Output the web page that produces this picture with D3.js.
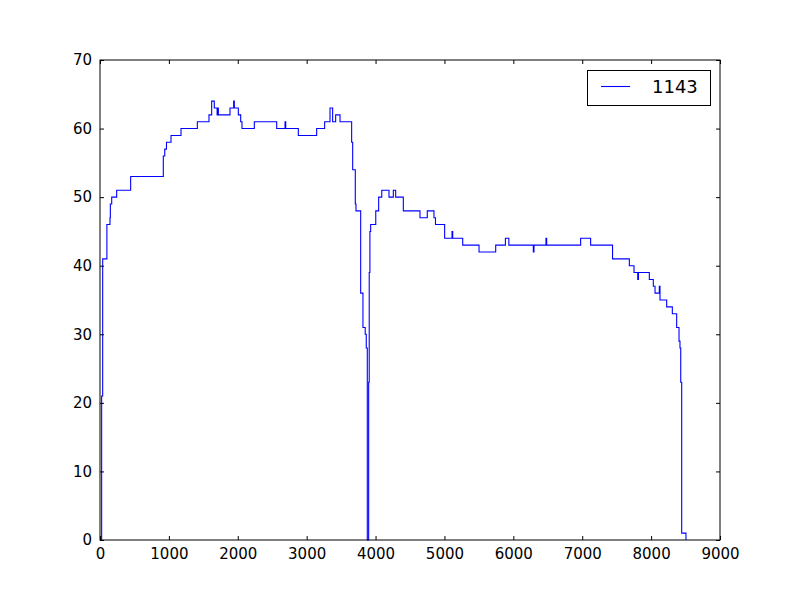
<!DOCTYPE html>
<html>
<head>
<meta charset="utf-8">
<script src="https://cdn.jsdelivr.net/npm/d3@7"></script>
<style>
  body { margin: 0; background: #fff; }
  text { font-family: "DejaVu Sans", sans-serif; fill: #000; }
</style>
</head>
<body>
<div id="chart"></div>
<script>
// step series "1143" : x where the level changes, and the level from there on
var stepX = [0, 24, 39, 100, 145, 150, 170, 242, 445, 919, 940, 965, 1031, 1176, 1413, 1582, 1621, 1659, 1700, 1712, 1718,
  1887, 1940, 1950, 2008, 2042, 2061, 2240, 2565, 2686, 2696, 2879, 3145, 3261, 3339, 3377, 3421, 3484, 3653, 3668,
  3706, 3716, 3784, 3817, 3850, 3865, 3880, 3900, 3908, 3918, 3929, 4003, 4045, 4090, 4195, 4258, 4292, 4403, 4645,
  4751, 4848, 4870, 5003, 5110, 5120, 5265, 5502, 5744, 5885, 5935, 6290, 6300, 6474, 6484, 6977, 7122, 7440, 7684,
  7752, 7806, 7816, 7974, 8032, 8057, 8119, 8129, 8226, 8308, 8371, 8405, 8419, 8430, 8444, 8506];
var stepY = [0, 21, 41, 46, 47, 49, 50, 51, 53, 56, 57, 58, 59, 60, 61, 62, 64, 63, 62, 63, 62,
  63, 64, 63, 62, 61, 60, 61, 60, 61, 60, 59, 60, 61, 63, 61, 62, 61, 58, 54,
  49, 48, 36, 31, 30, 28, 0, 23, 39, 45, 46, 48, 50, 51, 50, 51, 50, 48, 47,
  48, 47, 46, 44, 45, 44, 43, 42, 43, 44, 43, 42, 43, 44, 43, 44, 43, 41, 40,
  39, 38, 39, 38, 37, 36, 37, 35, 34, 33, 31, 29, 28, 23, 1, 0];
var seriesName = "1143";
var xTicks = [0, 1000, 2000, 3000, 4000, 5000, 6000, 7000, 8000, 9000];
var yTicks = [0, 10, 20, 30, 40, 50, 60, 70];

var width = 800;
var height = 600;
var plotLeft = 100, plotRight = 720, plotTop = 60, plotBottom = 540;

var svg = d3.select("#chart")
  .append("svg")
  .attr("width", width)
  .attr("height", height);

var xScale = d3.scaleLinear().domain([0, 9000]).range([plotLeft, plotRight]);
var yScale = d3.scaleLinear().domain([0, 70]).range([plotBottom, plotTop]);

var points = stepX.map(function(x, i) { return [x, stepY[i]]; });

var line = d3.line()
  .x(function(d) { return xScale(d[0]); })
  .y(function(d) { return yScale(d[1]); })
  .curve(d3.curveStepAfter);

svg.append("path")
  .datum(points)
  .attr("d", line)
  .attr("fill", "none")
  .attr("stroke", "#0000ff")
  .attr("stroke-width", 1.1);

// axes, ticks pointing inwards on all four sides
var fmt = d3.format("d");
var xBottom = d3.axisBottom(xScale).tickValues(xTicks).tickFormat(fmt).tickSizeInner(-4).tickSizeOuter(0).tickPadding(8);
var xTop = d3.axisTop(xScale).tickValues(xTicks).tickSizeInner(-4).tickSizeOuter(0).tickFormat("");
var yLeft = d3.axisLeft(yScale).tickValues(yTicks).tickFormat(fmt).tickSizeInner(-4).tickSizeOuter(0).tickPadding(8);
var yRight = d3.axisRight(yScale).tickValues(yTicks).tickSizeInner(-4).tickSizeOuter(0).tickFormat("");

function styleAxis(g) {
  g.select(".domain").remove();
  g.selectAll(".tick line").attr("stroke", "#000");
  g.selectAll(".tick text")
    .style("font-family", "'DejaVu Sans', sans-serif")
    .style("font-size", "15px")
    .attr("fill", "#000");
}

svg.append("g").attr("transform", "translate(0," + plotBottom + ")").call(xBottom).call(styleAxis);
svg.append("g").attr("transform", "translate(0," + plotTop + ")").call(xTop).call(styleAxis);
svg.append("g").attr("transform", "translate(" + plotLeft + ",0)").call(yLeft).call(styleAxis);
svg.append("g").attr("transform", "translate(" + plotRight + ",0)").call(yRight).call(styleAxis);

svg.append("rect")
  .attr("x", plotLeft)
  .attr("y", plotTop)
  .attr("width", plotRight - plotLeft)
  .attr("height", plotBottom - plotTop)
  .attr("fill", "none")
  .attr("stroke", "#000")
  .attr("stroke-width", 1);

// legend
var legend = svg.append("g").attr("transform", "translate(587,70)");
legend.append("rect")
  .attr("x", 0.5).attr("y", 0.5)
  .attr("width", 123).attr("height", 35)
  .attr("fill", "#fff")
  .attr("stroke", "#000");
legend.append("line")
  .attr("x1", 14).attr("x2", 43)
  .attr("y1", 16.5).attr("y2", 16.5)
  .attr("stroke", "#0000ff")
  .attr("stroke-width", 1.1);
legend.append("text")
  .attr("x", 65).attr("y", 23)
  .style("font-size", "18px")
  .text(seriesName);
</script>
</body>
</html>
